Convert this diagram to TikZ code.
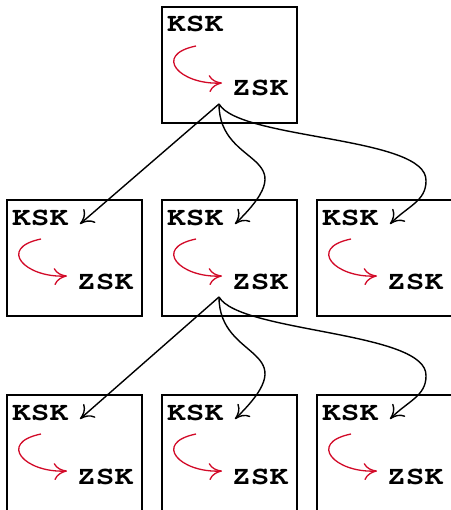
\documentclass[tikz,border=0pt]{standalone}
\usepackage[T1,TU]{fontenc}
\usetikzlibrary{arrows.meta}
\definecolor{sigred}{RGB}{210,10,40}

% wide bold Courier lettering for the key names
\newcommand\keyfont{\fontencoding{T1}\fontfamily{pcr}\fontseries{b}\fontshape{n}\fontsize{26}{26}\selectfont}
\newcommand\keytext[1]{\scalebox{1.2}[1]{#1}}

\tikzset{
  zone/.style={draw, line width=1.4bp, minimum width=135bp, minimum height=116bp,
    anchor=north west, inner sep=0pt, outer sep=0pt},
  keylabel/.style={font=\keyfont, anchor=base west, inner sep=0pt},
  signs/.style={draw=sigred, line width=1.3bp,
    -{To[length=13bp, width=17bp, line width=1.3bp]}},
  delegation/.style={draw, line width=1.4bp,
    -{To[length=13bp, width=18bp, line width=1.4bp]}},
}

% one zone: frame, key labels, signing arrow, and the entry/exit points of delegations
\newcommand\zonebox[3]{%
  \node[zone] (#1) at (#2,#3) {};
  \node[keylabel] (#1-ksk) at ([shift={(5,25)}]#1.north west) {\keytext{KSK}};
  \node[keylabel] (#1-zsk) at ([shift={(70,89)}]#1.north west) {\keytext{ZSK}};
  \coordinate (#1-in)  at ([shift={(73,24)}]#1.north west);
  \coordinate (#1-out) at ([shift={(57,97)}]#1.north west);
  \coordinate (#1-sa)  at ([shift={(34,39)}]#1.north west);
  \coordinate (#1-sb)  at ([shift={(60,76)}]#1.north west);
  \draw[signs] (#1-sa) .. controls +(-44,9) and +(-42,2) .. (#1-sb);
}

\begin{document}
\begin{tikzpicture}[x=1bp, y=-1bp]
  \useasboundingbox (0,0) rectangle (451,510);
  \clip (0,0) rectangle (451,510);

  \zonebox{root}{162}{7}
  \zonebox{za}{7}{200}
  \zonebox{zb}{162}{200}
  \zonebox{zc}{317}{200}
  \zonebox{zd}{7}{395}
  \zonebox{ze}{162}{395}
  \zonebox{zf}{317}{395}

  % delegations from the root zone
  \draw[delegation] (root-out) -- (za-in);
  \draw[delegation] (root-out) .. controls +(0,66) and +(75,-73) .. (zb-in);
  \draw[delegation] (root-out) .. controls +(21,36) and +(2,-45) .. ([shift={(36,-43)}]zc-in)
    .. controls +(0,20) and +(18,-18) .. (zc-in);

  % delegations from the middle zone
  \draw[delegation] (zb-out) -- (zd-in);
  \draw[delegation] (zb-out) .. controls +(0,66) and +(75,-73) .. (ze-in);
  \draw[delegation] (zb-out) .. controls +(21,36) and +(2,-45) .. ([shift={(36,-43)}]zf-in)
    .. controls +(0,20) and +(18,-18) .. (zf-in);
\end{tikzpicture}
\end{document}
